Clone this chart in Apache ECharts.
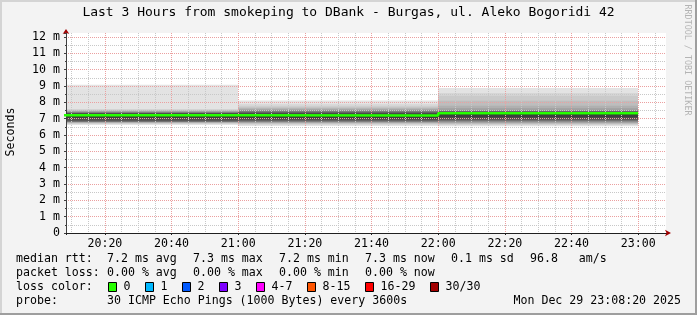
<!DOCTYPE html>
<html>
<head>
<meta charset="utf-8">
<script src="https://cdn.jsdelivr.net/npm/echarts@6/dist/echarts.min.js"></script>
<style>
html,body{margin:0;padding:0;background:#f3f3f3;}
#wrap{position:relative;width:697px;height:315px;overflow:hidden;background:#f3f3f3;}
#chart{position:absolute;left:0;top:0;width:697px;height:315px;}
.b{position:absolute;}
</style>
</head>
<body>
<div id="wrap">
<div id="chart"></div>
<div class="b" style="left:0;top:0;width:697px;height:2px;background:#d4d4d4"></div>
<div class="b" style="left:0;top:0;width:2px;height:315px;background:#d4d4d4"></div>
<div class="b" style="left:0;top:313px;width:697px;height:2px;background:#9e9e9e"></div>
<div class="b" style="left:695px;top:0;width:2px;height:315px;background:#9e9e9e"></div>
</div>
<script>
// ---------- data (time in minutes after 20:00, RTT in ms) ----------
const titleText = 'Last 3 Hours from smokeping to DBank - Burgas, ul. Aleko Bogoridi 42';
const yAxisTitle = 'Seconds';
const timeStartMin = 8 + 20 / 60;   // 20:08:20
const timeEndMin = 188 + 20 / 60;   // 23:08:20
const segStart = [0, 60, 120];
const segEnd = [60, 120, 180];
const medianRtt = [7.21, 7.20, 7.34];
// 30 sorted ping RTTs per hourly step (ms)
const pingsSeg1 = [6.62, 6.67, 6.71, 6.74, 6.76, 6.78, 6.80, 6.81, 6.82, 6.83, 6.84, 6.86, 6.93, 7.04, 7.14,
                   7.29, 7.31, 7.32, 7.33, 7.34, 7.36, 7.38, 7.40, 7.43, 7.46, 7.49, 7.52, 7.55, 7.60, 9.08];
const pingsSeg2 = [6.56, 6.62, 6.67, 6.71, 6.74, 6.77, 6.79, 6.81, 6.83, 6.85, 6.87, 6.90, 6.95, 7.02, 7.12,
                   7.28, 7.31, 7.34, 7.37, 7.40, 7.43, 7.46, 7.50, 7.54, 7.58, 7.63, 7.69, 7.77, 7.88, 8.12];
const pingsSeg3 = [6.54, 6.60, 6.65, 6.69, 6.72, 6.75, 6.78, 6.82, 6.86, 6.89, 6.91, 6.94, 7.00, 7.10, 7.22,
                   7.36, 7.38, 7.40, 7.42, 7.44, 7.46, 7.48, 7.50, 7.55, 7.65, 7.80, 8.10, 8.40, 8.57, 8.88];
const yMax = 12.25;
const rttLabel = 'median rtt:';
const rttStats = ['7.2 ms avg', '7.3 ms max', '7.2 ms min', '7.3 ms now', '0.1 ms sd', '96.8   am/s'];
const lossLabel = 'packet loss:';
const lossStats = ['0.00 % avg', '0.00 % max', '0.00 % min', '0.00 % now'];
const lossColorLabel = 'loss color:';
const lossLabels = ['0', '1', '2', '3', '4-7', '8-15', '16-29', '30/30'];
const lossColors = ['#26ff00', '#00b8ff', '#0059ff', '#7e00ff', '#ff00ff', '#ff5500', '#ff0000', '#a10000'];
const probeLabel = 'probe:';
const probeText = '30 ICMP Echo Pings (1000 Bytes) every 3600s';
const dateText = 'Mon Dec 29 23:08:20 2025';
const watermark = 'RRDTOOL / TOBI OETIKER';

// ---------- build ----------
const FONT = '"DejaVu Sans Mono", monospace';
const FS = 11.6;
const CW = 7.0;

function smokeGrey(k) { // smokeping smokecol: outer light -> inner dark
  const half = 15, ibot = k + 1;
  const c = Math.floor(190 / half * (half - ibot)) + 50;
  const h = c.toString(16).padStart(2, '0');
  return '#' + h + h + h;
}

const smokeData = [];
[pingsSeg1, pingsSeg2, pingsSeg3].forEach((p, s) => {
  const n = p.length;
  for (let k = 0; k < n / 2; k++) {
    smokeData.push([segStart[s], segEnd[s], p[k], p[n - 1 - k], k]);
  }
});
const medianPts = segStart.map((t, i) => [t, medianRtt[i]]);
medianPts.push([segEnd[segEnd.length - 1], medianRtt[medianRtt.length - 1]]);

const graphics = [];
function txt(x, y, s, opt, style) {
  graphics.push(Object.assign({
    type: 'text', x: x, y: y, silent: true,
    style: Object.assign({ text: s, font: FS + 'px ' + FONT, fill: '#000', textAlign: 'left', align: 'left', textVerticalAlign: 'middle', verticalAlign: 'middle' }, style || {})
  }, opt || {}));
}
const rows = [259, 273, 287, 301];
txt(16, rows[0], rttLabel);
let x = 107;
rttStats.forEach(s => { txt(x, rows[0], s); x += s.length * CW + 16; });
txt(16, rows[1], lossLabel);
x = 107;
lossStats.forEach(s => { txt(x, rows[1], s); x += s.length * CW + 16; });
txt(16, rows[2], lossColorLabel);
x = 108;
lossLabels.forEach((s, i) => {
  graphics.push({ type: 'rect', silent: true, shape: { x: x + 0.5, y: rows[2] - 4.5, width: 8, height: 9 },
    style: { fill: lossColors[i], stroke: '#000', lineWidth: 1 } });
  txt(x + 15.5, rows[2], s);
  x += 30 + s.length * CW;
});
txt(16, rows[3], probeLabel);
txt(107, rows[3], probeText);
txt(681, rows[3], dateText, null, { textAlign: 'right', align: 'right' });
txt(687, 60, watermark, { rotation: -Math.PI / 2 }, { font: '8.4px ' + FONT, fill: '#b4b4b4', textAlign: 'center', align: 'center' });
txt(10.5, 132, yAxisTitle, { rotation: Math.PI / 2 }, { textAlign: 'center', align: 'center' });

const chart = echarts.init(document.getElementById('chart'), null, { renderer: 'canvas', width: 697, height: 315 });

const majorLine = { show: true, showMinLine: false, showMaxLine: false, lineStyle: { color: '#eba0a0', width: 1, type: [1, 1] } };
const minorLine = { show: true, lineStyle: { color: '#c8c8c8', width: 1, type: [1, 1] } };

chart.setOption({
  animation: false,
  backgroundColor: 'transparent',
  title: {
    text: titleText, left: 'center', top: 6, padding: 0,
    textStyle: { fontFamily: FONT, fontSize: 13, fontWeight: 'normal', color: '#000' }
  },
  grid: { left: 66, right: 31, top: 33, bottom: 82, show: true, backgroundColor: '#ffffff', borderWidth: 0, containLabel: false, outerBoundsMode: 'none' },
  xAxis: [{
    type: 'value', min: timeStartMin, max: timeEndMin, splitNumber: 9, z: 2,
    axisLine: { show: true, onZero: false, lineStyle: { color: '#202020', width: 1 } },
    axisTick: { show: true, length: 2, inside: false, lineStyle: { color: '#202020' } },
    minorTick: { show: true, splitNumber: 4, length: 1, lineStyle: { color: '#202020' } },
    axisLabel: {
      show: true, margin: 5, showMinLabel: false, showMaxLabel: false, color: '#000', fontFamily: FONT, fontSize: FS,
      formatter: v => { const t = Math.round(v); return (20 + Math.floor(t / 60)) + ':' + String(t % 60).padStart(2, '0'); }
    },
    splitLine: majorLine,
    minorSplitLine: minorLine
  }, {
    type: 'value', min: timeStartMin, max: timeEndMin, position: 'bottom', z: 4,
    axisLine: { show: true, onZero: false, symbol: ['none', 'arrow'], symbolSize: [5, 6], symbolOffset: [0, 5], lineStyle: { color: '#a00000', width: 0 } },
    axisTick: { show: false }, axisLabel: { show: false }, splitLine: { show: false }
  }],
  yAxis: [{
    type: 'value', min: 0, max: yMax, interval: 1, z: 2,
    axisLine: { show: true, onZero: false, lineStyle: { color: '#404040', width: 1 } },
    axisTick: { show: true, length: 2, lineStyle: { color: '#404040' } },
    minorTick: { show: true, splitNumber: 2, length: 1, lineStyle: { color: '#404040' } },
    axisLabel: {
      show: true, margin: 6, showMaxLabel: false, color: '#000', fontFamily: FONT, fontSize: FS,
      formatter: v => (v === 0 ? '0' : v + ' m')
    },
    splitLine: majorLine,
    minorSplitLine: minorLine
  }, {
    type: 'value', min: 0, max: yMax, position: 'left', z: 4,
    axisLine: { show: true, onZero: false, symbol: ['none', 'arrow'], symbolSize: [5, 5], symbolOffset: [0, 4], lineStyle: { color: '#a00000', width: 0 } },
    axisTick: { show: false }, axisLabel: { show: false }, splitLine: { show: false }
  }],
  series: [{
    type: 'custom', name: 'smoke', z: 1, clip: true,
    xAxisIndex: 0, yAxisIndex: 0,
    encode: { x: [0, 1], y: [2, 3] },
    data: smokeData,
    renderItem: function (params, api) {
      const a = api.coord([api.value(0), api.value(3)]);
      const b = api.coord([api.value(1), api.value(2)]);
      const cs = params.coordSys;
      const x0 = Math.round(a[0]), x1 = Math.round(b[0]);
      const shape = echarts.graphic.clipRectByRect(
        { x: x0, y: a[1], width: x1 - x0, height: b[1] - a[1] },
        { x: cs.x, y: cs.y, width: cs.width, height: cs.height });
      return shape && { type: 'rect', shape: shape, style: { fill: smokeGrey(api.value(4)) } };
    }
  }, {
    type: 'line', name: 'median rtt', z: 3, step: 'end', symbol: 'none', clip: true,
    xAxisIndex: 0, yAxisIndex: 0,
    data: medianPts,
    lineStyle: { color: lossColors[0], width: 2.5 }
  }],
  graphic: { elements: graphics }
});
</script>
</body>
</html>
